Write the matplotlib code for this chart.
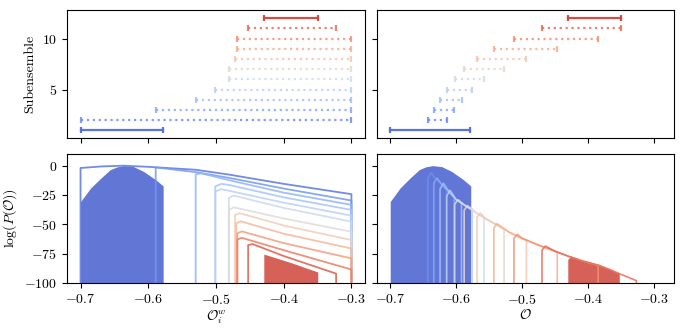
import numpy as np
import matplotlib
matplotlib.use("Agg")
import matplotlib.pyplot as plt

plt.rcParams["font.family"] = "serif"
plt.rcParams["font.serif"] = ["cmr10", "DejaVu Serif"]
plt.rcParams["mathtext.fontset"] = "cm"
plt.rcParams["axes.formatter.use_mathtext"] = True
plt.rcParams["font.size"] = 10

# --- top panels: subensemble windows ---------------------------------------
sub_ids = list(range(1, 13))
# left (reweighted observable O_i^w)
win_lo_w = [-0.700, -0.700, -0.589, -0.530, -0.501, -0.481, -0.481, -0.472, -0.469, -0.469, -0.4525, -0.4294]
win_hi_w = [-0.5785, -0.300, -0.300, -0.300, -0.300, -0.300, -0.300, -0.300, -0.300, -0.300, -0.3226, -0.3497]
# right (observable O)
win_lo = [-0.700, -0.643, -0.634, -0.6245, -0.6145, -0.6024, -0.588, -0.5685, -0.543, -0.5125, -0.470, -0.430]
win_hi = [-0.579, -0.6145, -0.603, -0.592, -0.5757, -0.558, -0.5275, -0.4936, -0.447, -0.385, -0.350, -0.350]

# --- bottom: first subensemble (filled dome, same in both panels) ----------
dome_x = [-0.700, -0.685, -0.670, -0.656, -0.646, -0.636, -0.622, -0.607, -0.589, -0.578]
dome_y = [-30.6, -19.0, -10.6, -3.4, -1.0, 0.0, -0.8, -4.9, -12.0, -17.3]

# --- bottom-left: reweighted log P curves (outlines) ------------------------
bl_color = [0.10, 0.18, 0.26, 0.32, 0.38, 0.44, 0.51, 0.59, 0.67, 0.74, 0.81, 0.88]
bl_x = [
    [-0.700, -0.670, -0.637, -0.600, -0.530, -0.480, -0.400, -0.300],
    [-0.589, -0.530, -0.480, -0.400, -0.300],
    [-0.530, -0.522, -0.480, -0.400, -0.300],
    [-0.501, -0.492, -0.480, -0.400, -0.300],
    [-0.501, -0.492, -0.400, -0.300],
    [-0.481, -0.474, -0.400, -0.300],
    [-0.481, -0.474, -0.400, -0.300],
    [-0.472, -0.465, -0.400, -0.300],
    [-0.470, -0.463, -0.400, -0.300],
    [-0.4685, -0.462, -0.400, -0.300],
    [-0.4685, -0.462, -0.400, -0.300],
    [-0.4525, -0.446, -0.400, -0.3226],
]
bl_y = [
    [-2.0, -0.7, 0.0, -1.0, -3.5, -7.7, -15.5, -24.3],
    [-1.5, -5.5, -10.5, -19.5, -29.7],
    [-7.5, -6.5, -12.5, -23.0, -33.4],
    [-17.7, -15.5, -16.5, -27.0, -37.7],
    [-22.0, -20.0, -31.5, -42.6],
    [-27.7, -25.5, -36.0, -47.7],
    [-38.0, -35.5, -45.0, -56.3],
    [-42.0, -40.5, -51.0, -63.4],
    [-49.0, -47.5, -58.0, -70.6],
    [-57.7, -56.0, -66.0, -79.0],
    [-63.0, -61.5, -72.0, -88.5],
    [-67.7, -66.8, -77.0, -92.0],
]
# last subensemble (filled)
bl_last_x = [-0.4294, -0.423, -0.390, -0.3497]
bl_last_y = [-75.4, -76.5, -82.5, -90.6]

# --- bottom-right: stitched distribution -----------------------------------
env_x = [-0.640, -0.632, -0.622, -0.610, -0.600, -0.584, -0.570, -0.556, -0.540, -0.519,
         -0.500, -0.474, -0.450, -0.431, -0.410, -0.383, -0.365, -0.353, -0.340, -0.327]
env_y = [-6.0, -11.0, -16.0, -23.0, -29.0, -35.0, -40.0, -45.0, -50.0, -57.0,
         -62.0, -68.0, -73.0, -77.0, -81.0, -85.0, -89.0, -92.0, -95.0, -98.0]
br_lo = [-0.700, -0.643, -0.634, -0.6245, -0.6145, -0.6024, -0.588, -0.5685, -0.543, -0.5125, -0.470, -0.431]
br_hi = [-0.579, -0.6145, -0.603, -0.592, -0.5757, -0.558, -0.5275, -0.4936, -0.447, -0.385, -0.327, -0.353]
br_dip = [0, -11.0, -15.0, -20.0, -26.0, -33.0, -38.0, -44.0, -53.0, -62.0, -72.0, -80.0]
br_top = [0, -6.0, -10.5, -15.0, -21.0, -29.0, -34.0, -40.5, -49.5, -58.5, -68.5, -77.0]
br_end = [0, -21.0, -27.0, -32.0, -37.0, -44.5, -54.5, -63.5, -73.5, -85.0, -98.0, -92.0]

cmap = plt.cm.coolwarm
# seaborn-style palette: evenly spaced, colormap ends excluded
colors = cmap(np.linspace(0, 1, len(sub_ids) + 2)[1:-1])
BOTTOM = -100

fig = plt.figure(figsize=(6.85, 3.31), dpi=100)
ax_tl = fig.add_axes([0.0978, 0.583, 0.435, 0.387])
ax_tr = fig.add_axes([0.5504, 0.583, 0.4336, 0.387])
ax_bl = fig.add_axes([0.0978, 0.145, 0.435, 0.390])
ax_br = fig.add_axes([0.5504, 0.145, 0.4336, 0.390])


def draw_windows(ax, lo, hi):
    n = len(sub_ids)
    for i, (a, b, s) in enumerate(zip(lo, hi, sub_ids)):
        solid = i in (0, n - 1)
        ax.plot([a, b], [s, s], ls="-" if solid else ":", lw=1.6,
                color=colors[i], alpha=0.95 if solid else 0.85,
                marker="|", ms=5, mew=1.6)


draw_windows(ax_tl, win_lo_w, win_hi_w)
draw_windows(ax_tr, win_lo, win_hi)

blue_fill = cmap(0.04)

# bottom-left
ax_bl.fill_between(dome_x, dome_y, BOTTOM, color=blue_fill, alpha=0.85, lw=0)
for cx, cy, cv in zip(bl_x, bl_y, bl_color):
    ax_bl.plot([cx[0]] + cx + [cx[-1]], [BOTTOM] + cy + [BOTTOM],
               color=cmap(cv), lw=1.3, alpha=0.85)
ax_bl.fill_between(bl_last_x, bl_last_y, BOTTOM, color=colors[-1], alpha=0.85, lw=0)

# bottom-right
ax_br.fill_between(dome_x, dome_y, BOTTOM, color=blue_fill, alpha=0.85, lw=0)
for i in range(1, len(sub_ids)):
    a, b = br_lo[i], br_hi[i]
    mid = [(x, y) for x, y in zip(env_x, env_y) if a + 0.006 < x < b - 0.002]
    xs = [a, a, a + 0.005] + [m[0] for m in mid] + [b, b]
    ys = [BOTTOM, br_dip[i], br_top[i]] + [m[1] for m in mid] + [br_end[i], BOTTOM]
    if i == len(sub_ids) - 1:
        ax_br.fill_between(xs[1:-1], ys[1:-1], BOTTOM, color=colors[i], alpha=0.85, lw=0)
    else:
        ax_br.plot(xs, ys, color=colors[i], lw=1.2, alpha=0.85)

for ax in (ax_tl, ax_tr):
    ax.set_ylim(0.25, 12.8)
    ax.set_yticks([5, 10])
    ax.tick_params(labelbottom=False)
for ax in (ax_bl, ax_br):
    ax.set_ylim(-100, 10)
    ax.set_yticks([0, -25, -50, -75, -100])
for ax in (ax_tl, ax_bl):
    ax.set_xlim(-0.72, -0.28)
for ax in (ax_tr, ax_br):
    ax.set_xlim(-0.72, -0.27)
    ax.tick_params(labelleft=False)
for ax in (ax_tl, ax_tr, ax_bl, ax_br):
    ax.set_xticks([-0.7, -0.6, -0.5, -0.4, -0.3])
    ax.tick_params(direction="out", length=3.5, width=0.8)

ax_tl.set_ylabel("Subensemble")
ax_bl.set_ylabel(r"$\log(P(\mathcal{O}))$")
ax_bl.set_xlabel(r"$\mathcal{O}_i^w$", labelpad=1)
ax_br.set_xlabel(r"$\mathcal{O}$", labelpad=1)

fig.savefig("out.png", dpi=100)
